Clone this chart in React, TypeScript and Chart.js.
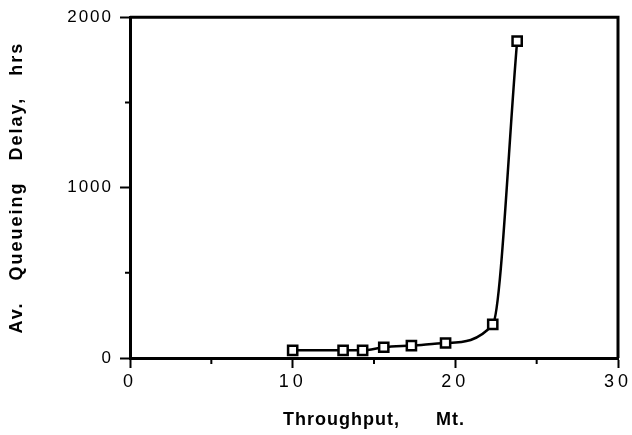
import { useEffect, useRef } from 'react';
import { Chart, registerables } from 'chart.js';

Chart.register(...registerables);

// ---- data ----
const throughput = [10, 13.1, 14.3, 15.6, 17.3, 19.4, 22.3, 23.8];
const delay = [45, 45, 45, 63, 73, 88, 197, 1860];

const xMajorTicks = [0, 10, 20, 30];
const xMinorTicks = [5, 15, 25];
const yMajorTicks = [0, 1000, 2000];
const yMinorTicks = [500, 1500];

const xTitle = 'Throughput,      Mt.';
const yTitle = 'Av.   Queueing   Delay,   hrs';

const FAMILY = '"Liberation Sans", Arial, Helvetica, sans-serif';

const spacingCfg: Record<string, { labels: string; title: string }> = {
  x: { labels: '4px', title: '1px' },
  y: { labels: '2px', title: '2px' },
};

const spacingPlugin = {
  id: 'letterSpacing',
  afterLayout(chart: any) {
    for (const id of ['x', 'y']) {
      const s: any = chart.scales[id];
      if (!s || s.__spaced) continue;
      s.__spaced = true;
      const dl = s.drawLabels.bind(s);
      const dt = s.drawTitle.bind(s);
      s.drawLabels = (area: any) => {
        const c: any = chart.ctx;
        c.save();
        c.letterSpacing = spacingCfg[id].labels;
        dl(area);
        c.restore();
      };
      s.drawTitle = () => {
        const c: any = chart.ctx;
        c.save();
        c.letterSpacing = spacingCfg[id].title;
        dt();
        c.restore();
      };
    }
  },
};

const framePlugin = {
  id: 'frame',
  afterDraw(chart: any) {
    const { ctx, chartArea: a, scales } = chart;
    ctx.save();
    ctx.strokeStyle = '#000';
    ctx.lineWidth = 3;
    ctx.beginPath();
    ctx.moveTo(a.left, a.top);
    ctx.lineTo(a.right, a.top);
    ctx.lineTo(a.right, a.bottom);
    ctx.stroke();
    ctx.lineWidth = 2;
    ctx.beginPath();
    for (const v of xMinorTicks) {
      const px = scales.x.getPixelForValue(v);
      ctx.moveTo(px, a.bottom);
      ctx.lineTo(px, a.bottom + 6);
    }
    for (const v of yMinorTicks) {
      const py = scales.y.getPixelForValue(v);
      ctx.moveTo(a.left - 5, py);
      ctx.lineTo(a.left, py);
    }
    ctx.stroke();
    ctx.restore();
  },
};

export default function App() {
  const ref = useRef<HTMLCanvasElement | null>(null);

  useEffect(() => {
    document.body.style.margin = '0';
    const canvas = ref.current;
    if (!canvas) return;
    const chart = new Chart(canvas, {
      type: 'line',
      data: {
        datasets: [
          {
            data: throughput.map((x, i) => ({ x, y: delay[i] })),
            borderColor: '#000',
            borderWidth: 2.5,
            cubicInterpolationMode: 'monotone',
            pointStyle: 'rect',
            pointRadius: 6.5,
            pointBackgroundColor: '#fff',
            pointBorderColor: '#000',
            pointBorderWidth: 2.5,
            fill: false,
          } as any,
        ],
      },
      options: {
        animation: false,
        responsive: false,
        devicePixelRatio: 1,
        layout: { padding: { top: 15, right: 14, left: 0, bottom: 0 } },
        plugins: { legend: { display: false }, tooltip: { enabled: false } },
        scales: {
          x: {
            type: 'linear',
            min: 0,
            max: 30,
            afterBuildTicks: (s: any) => {
              s.ticks = xMajorTicks.map((v) => ({ value: v }));
            },
            afterFit: (s: any) => {
              s.height = 77;
            },
            grid: {
              display: true,
              drawOnChartArea: false,
              drawTicks: true,
              tickLength: 10,
              tickWidth: 2,
              tickColor: '#000',
            },
            border: { display: true, color: '#000', width: 3 },
            ticks: {
              color: '#000',
              font: { family: FAMILY, size: 18 },
              padding: 3,
              maxRotation: 0,
              autoSkip: false,
              callback: (v: any) => String(v),
            },
            title: {
              display: true,
              text: xTitle,
              color: '#000',
              font: { family: FAMILY, size: 18, weight: 'bold' },
              padding: { top: 0, bottom: 4 },
            },
          },
          y: {
            type: 'linear',
            min: 0,
            max: 2000,
            afterBuildTicks: (s: any) => {
              s.ticks = yMajorTicks.map((v) => ({ value: v }));
            },
            afterFit: (s: any) => {
              s.width = 130;
            },
            grid: {
              display: true,
              drawOnChartArea: false,
              drawTicks: true,
              tickLength: 10,
              tickWidth: 2,
              tickColor: '#000',
            },
            border: { display: true, color: '#000', width: 3 },
            ticks: {
              color: '#000',
              font: { family: FAMILY, size: 17 },
              padding: 7,
              autoSkip: false,
              callback: (v: any) => String(v),
            },
            title: {
              display: true,
              text: yTitle,
              color: '#000',
              font: { family: FAMILY, size: 18, weight: 'bold' },
              padding: { top: 6, bottom: 0 },
            },
          },
        },
      } as any,
      plugins: [spacingPlugin, framePlugin],
    });
    return () => chart.destroy();
  }, []);

  return <canvas ref={ref} width={632} height={435} style={{ display: 'block' }} />;
}
